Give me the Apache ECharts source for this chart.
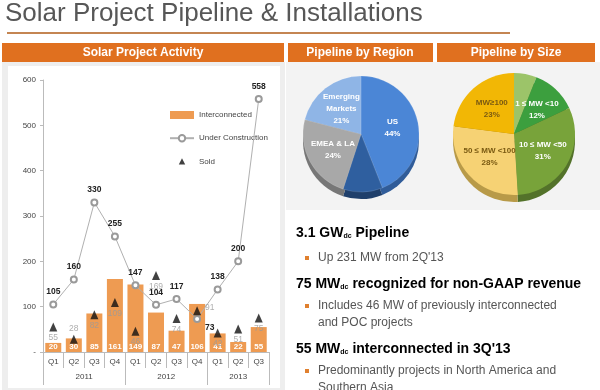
<!DOCTYPE html>
<html><head><meta charset="utf-8">
<script src="https://cdn.jsdelivr.net/npm/echarts@6/dist/echarts.min.js"></script>
<style>html,body{margin:0;padding:0;background:#fff}#c{width:600px;height:390px}</style>
</head><body><div id="c"></div><script>
const quarters = ['Q1','Q2','Q3','Q4','Q1','Q2','Q3','Q4','Q1','Q2','Q3'];
const years = ['2011','2012','2013'];
const yearSpans = [4,4,3];
const interconnected = [20,30,85,161,149,87,47,106,41,22,55];
const underConstruction = [105,160,330,255,147,104,117,73,138,200,558];
const sold = [55,28,82,109,46,169,74,91,42,51,75];
const yMax = 600, yStep = 100;
const regionNames = ['US','Canada','EMEA & LA','Emerging\nMarkets'];
const regionShare = [44,11,24,21];
const sizeNames = ['MW <1','1 ≤ MW <10','10 ≤ MW <50','50 ≤ MW <100','MW≥100'];
const sizeShare = [6,12,31,28,23];

const FONT = 'Liberation Sans, Arial, sans-serif';
const regionColors = ['#4b86d6','#2f5f9f','#a8a8a8','#8fb5e6'];
const regionDark = ['#305c99','#1f3f6b','#777777','#5f82b0'];
const sizeColors = ['#9cc469','#3c9f3e','#78a33a','#f6d274','#f2b705'];
const sizeDark = ['#6b8c43','#286d2a','#53722a','#b89a48','#a97f05'];
const sizeLabelColors = ['#fff','#fff','#fff','#7a5a12','#7a5a12'];

const bounds = [0]; yearSpans.forEach(s => bounds.push(bounds[bounds.length-1] + s));
const centres = yearSpans.map((s,i) => bounds[i] + s/2);

const chart = echarts.init(document.getElementById('c'), null, {renderer:'canvas'});

function sub(big, small, rest, y){
  return {type:'text', z:20, x:296, y:y, style:{text:'{a|'+big+'}{s|'+small+'}{a|'+rest+'}', font:'bold 14px '+FONT, textVerticalAlign:'middle',
    rich:{a:{fontFamily:FONT,fontWeight:'bold',fontSize:14,color:'#222'},
          s:{fontFamily:FONT,fontWeight:'bold',fontSize:7,color:'#222',verticalAlign:'bottom',padding:[7,0,0,0]}}}};
}
function bullet(y){return {type:'rect',z:20,shape:{x:305,y:y-2,width:4,height:4},style:{fill:'#e0802f'}};}
function line(y,t){return {type:'text',z:20,x:318,y:y,style:{text:t,font:'12px '+FONT,fill:'#555',textVerticalAlign:'middle'}};}

const graphics = [
  {type:'text',z:20,x:5,y:1,style:{text:'Solar Project Pipeline & Installations',font:'26px '+FONT,fill:'#575757'}},
  {type:'rect',z:1,shape:{x:7,y:32,width:503,height:2},style:{fill:'#c48552'}},
  {type:'rect',z:0,shape:{x:2,y:62,width:283,height:328},style:{fill:'#eeeeee'}},
  {type:'rect',z:0,shape:{x:8,y:66,width:272,height:322},style:{fill:'#ffffff'}},
  {type:'rect',z:0,shape:{x:286,y:62,width:314,height:148},style:{fill:'#f3f3f3'}},
  {type:'rect',z:1,shape:{x:2,y:43,width:282,height:19},style:{fill:'#e0701f'}},
  {type:'rect',z:1,shape:{x:288,y:43,width:145,height:19},style:{fill:'#e0701f'}},
  {type:'rect',z:1,shape:{x:437,y:43,width:158,height:19},style:{fill:'#e0701f'}},
  {type:'text',z:20,x:143,y:53,style:{text:'Solar Project Activity',font:'bold 12px '+FONT,fill:'#fff',textAlign:'center',textVerticalAlign:'middle'}},
  {type:'text',z:20,x:360,y:53,style:{text:'Pipeline by Region',font:'bold 12px '+FONT,fill:'#fff',textAlign:'center',textVerticalAlign:'middle'}},
  {type:'text',z:20,x:516,y:53,style:{text:'Pipeline by Size',font:'bold 12px '+FONT,fill:'#fff',textAlign:'center',textVerticalAlign:'middle'}},
  sub('3.1 GW','dc',' Pipeline',233),
  bullet(258), line(258,"Up 231 MW from 2Q'13"),
  sub('75 MW','dc',' recognized for non-GAAP revenue',284),
  bullet(306), line(306,'Includes 46 MW of previously interconnected'),
  line(323,'and POC projects'),
  sub('55 MW','dc',' interconnected in 3Q\'13',349),
  bullet(371), line(371,'Predominantly projects in North America and'),
  line(388,'Southern Asia')
];

const triIcon = 'path://M0,0 L0.01,0 M26,10 L26.01,10 M13,1 L17,9 L9,9 Z';

const option = {
  animation:false,
  backgroundColor:'#ffffff',
  textStyle:{fontFamily:FONT},
  graphic:{elements:graphics},
  legend:{
    orient:'vertical', left:164, top:106, itemGap:15, itemWidth:24, itemHeight:8,
    textStyle:{fontSize:8,color:'#444',fontFamily:FONT},
    data:[{name:'Interconnected',icon:'rect'},{name:'Under Construction'},{name:'Sold',icon:triIcon}]
  },
  grid:{left:43,right:331,top:80,bottom:38,containLabel:false},
  xAxis:[
    {type:'category',data:quarters,boundaryGap:true,position:'bottom',
     axisLine:{lineStyle:{color:'#bbbbbb'}},
     axisTick:{show:true,interval:0,length:16,lineStyle:{color:'#bbbbbb'}},
     axisLabel:{interval:0,fontSize:8,color:'#444',margin:6,fontFamily:FONT}},
    {type:'value',min:0,max:bounds[bounds.length-1],position:'bottom',offset:16,
     axisLine:{show:false},splitLine:{show:false},
     axisTick:{show:true,length:17,customValues:bounds,lineStyle:{color:'#bbbbbb'}},
     axisLabel:{customValues:centres,fontSize:8,color:'#444',margin:5,fontFamily:FONT,
       formatter:v=>{const i=centres.findIndex(c=>Math.abs(c-v)<1e-6);return i>=0?years[i]:'';}}}
  ],
  yAxis:{type:'value',min:0,max:yMax,interval:yStep,
    axisLine:{show:true,lineStyle:{color:'#bbbbbb'}},
    axisTick:{show:true,length:3,lineStyle:{color:'#bbbbbb'}},
    splitLine:{show:false},
    axisLabel:{fontSize:8,color:'#444',margin:7,fontFamily:FONT,formatter:v=>v===0?'-':v}},
  series:[
    {name:'Interconnected',type:'bar',data:interconnected,barWidth:16,
     itemStyle:{color:'#ee9b52'},
     label:{show:true,position:'insideBottom',distance:1,color:'#fff',fontWeight:'bold',fontSize:8,fontFamily:FONT}},
    {name:'Under Construction',type:'line',data:underConstruction.map((v,i)=>i===7?{value:v,label:{position:'right',offset:[0,9]}}:v),
     symbol:'emptyCircle',symbolSize:6,z:5,
     lineStyle:{color:'#b0b0b0',width:1},itemStyle:{color:'#9a9a9a',borderWidth:1},
     label:{show:true,position:'top',distance:4,color:'#222',fontWeight:'bold',fontSize:8.5,fontFamily:FONT}},
    {name:'Sold',type:'scatter',data:sold.map((v,i)=>i===1?{value:v,label:{position:'top'}}:(i===7?{value:v,label:{position:'right',offset:[2,-3]}}:v)),
     symbol:'triangle',symbolSize:[8,9],z:6,itemStyle:{color:'#111'},
     label:{show:true,position:'bottom',distance:2,color:'#9a9a9a',fontSize:8.5,fontFamily:FONT}},
    {type:'pie',silent:true,center:[361,141],radius:[0,58],startAngle:90,clockwise:true,z:1,
     data:regionShare.map((v,i)=>({value:v,name:regionNames[i]+' ',itemStyle:{color:regionDark[i]}})),
     label:{show:false},labelLine:{show:false}},
    {type:'pie',center:[361,134],radius:[0,58],startAngle:90,clockwise:true,z:3,
     data:regionShare.map((v,i)=>({value:v,name:regionNames[i],itemStyle:{color:regionColors[i]}})),
     itemStyle:{borderColor:'rgba(255,255,255,0.25)',borderWidth:0.5},
     label:{show:true,position:'inside',formatter:p=>p.name+'\n'+p.value+'%',color:'#fff',fontSize:8,fontWeight:'bold',lineHeight:12,fontFamily:FONT},
     labelLine:{show:false}},
    {type:'pie',silent:true,center:[514,141],radius:[0,61],startAngle:90,clockwise:true,z:1,
     data:sizeShare.map((v,i)=>({value:v,name:sizeNames[i]+' ',itemStyle:{color:sizeDark[i]}})),
     label:{show:false},labelLine:{show:false}},
    {type:'pie',center:[514,134],radius:[0,61],startAngle:90,clockwise:true,z:3,
     data:sizeShare.map((v,i)=>({value:v,name:sizeNames[i],itemStyle:{color:sizeColors[i]},label:{color:sizeLabelColors[i]}})),
     label:{show:true,position:'inside',formatter:p=>p.name+'\n'+p.value+'%',fontSize:8,fontWeight:'bold',lineHeight:12,fontFamily:FONT},
     labelLine:{show:false}}
  ]
};
chart.setOption(option);
</script></body></html>
